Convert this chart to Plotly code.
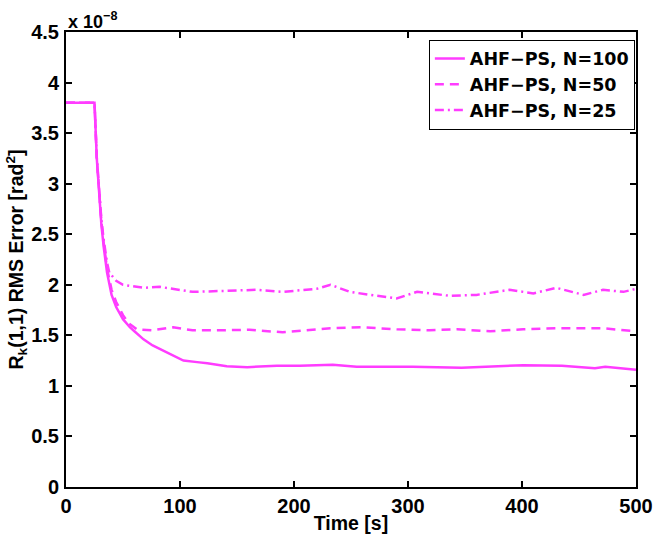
import plotly.graph_objects as go

# Values in units of 1e-8 rad^2
t_n100 = [0, 24, 25, 27, 29, 31, 33, 36, 40, 44, 50, 56, 60, 68, 76, 88, 100, 103, 115, 124, 141,
          159, 185, 205, 234, 255, 287, 304, 347, 376, 401, 435, 464, 473, 500]
e_n100 = [3.80, 3.80, 3.80, 3.25, 2.90, 2.60, 2.38, 2.12, 1.90, 1.78, 1.66, 1.58, 1.54, 1.46, 1.40,
          1.33, 1.26, 1.25, 1.235, 1.225, 1.195, 1.185, 1.20, 1.20, 1.21, 1.19, 1.19, 1.19, 1.18,
          1.19, 1.205, 1.20, 1.175, 1.19, 1.16]

t_n50 = [0, 24, 25, 27, 29, 31, 33, 36, 40, 44, 50, 55, 62, 76, 94, 111, 132, 150, 161, 190, 232,
         260, 290, 319, 343, 372, 401, 431, 471, 500]
e_n50 = [3.80, 3.80, 3.80, 3.25, 2.92, 2.63, 2.42, 2.16, 1.95, 1.83, 1.70, 1.62, 1.56, 1.55, 1.58,
         1.55, 1.55, 1.55, 1.555, 1.53, 1.57, 1.58, 1.56, 1.55, 1.56, 1.54, 1.56, 1.57,
         1.57, 1.54]

t_n25 = [0, 24, 25, 27, 29, 31, 33, 36, 38, 44, 50, 68, 82, 106, 111, 141, 161, 167, 190, 220, 232,
         249, 267, 290, 308, 337, 360, 389, 410, 430, 454, 471, 489, 500]
e_n25 = [3.80, 3.80, 3.80, 3.26, 2.93, 2.65, 2.45, 2.22, 2.12, 2.04, 2.00, 1.97, 1.98, 1.94, 1.93,
         1.94, 1.95, 1.95, 1.93, 1.96, 2.00, 1.93, 1.90, 1.865, 1.93, 1.89, 1.90, 1.95,
         1.915, 1.97, 1.90, 1.95, 1.93, 1.96]

series = [
    ("AHF\u2212PS, N=100", t_n100, e_n100, "solid"),
    ("AHF\u2212PS, N=50", t_n50, e_n50, "9px,6px"),
    ("AHF\u2212PS, N=25", t_n25, e_n25, "9px,4px,2px,4px"),
]

x_ticks = [0, 100, 200, 300, 400, 500]
y_ticks = [0, 0.5, 1, 1.5, 2, 2.5, 3, 3.5, 4, 4.5]
y_tick_labels = ["0", "0.5", "1", "1.5", "2", "2.5", "3", "3.5", "4", "4.5"]

color = "#ff3cff"
font_family = "Liberation Sans, Arial, Helvetica, sans-serif"
legend_family = "DejaVu Sans, Liberation Sans, sans-serif"

fig = go.Figure()
for name, t, e, dash in series:
    fig.add_trace(go.Scatter(x=t, y=e, mode="lines", name=name,
                             line=dict(color=color, width=2.5, dash=dash)))

axis_common = dict(showline=True, linecolor="black", linewidth=2, mirror="allticks",
                   ticks="inside", ticklen=6, tickwidth=2, tickcolor="black",
                   showgrid=False, zeroline=False, automargin=False,
                   ticklabeloverflow="allow",
                   tickfont=dict(family=font_family, size=20, color="black", weight="bold"))

fig.update_layout(
    width=654, height=537,
    margin=dict(l=66, r=18, t=32, b=50),
    paper_bgcolor="white", plot_bgcolor="white",
    font=dict(family=font_family, color="black"),
    xaxis=dict(range=[0, 500], tickvals=x_ticks, ticktext=[str(v) for v in x_ticks],
               title=dict(text="<b>Time [s]</b>", font=dict(size=19.5, family=font_family), standoff=0),
               ticklabelstandoff=0,
               **axis_common),
    yaxis=dict(range=[0, 4.5], tickvals=y_ticks, ticktext=y_tick_labels,
               title=dict(text="<b>R<sub>k</sub>(1,1) RMS Error [rad<sup>2</sup>]</b>",
                          font=dict(size=19.5, family=font_family), standoff=2),
               ticklabelstandoff=1,
               **axis_common),
    legend=dict(x=0.998, y=0.9835, xanchor="right", yanchor="top",
                bordercolor="black", borderwidth=1, bgcolor="white",
                font=dict(family=legend_family, size=17.5, color="black", weight="bold"),
                tracegroupgap=0, itemwidth=30),
    showlegend=True,
)

fig.add_annotation(text="<b>x 10<sup>\u22128</sup></b>", xref="paper", yref="paper",
                   x=0.0, y=1.0, xanchor="left", yanchor="bottom", showarrow=False,
                   font=dict(family=font_family, size=18, color="black"), yshift=-2)

fig.write_html("out.html")
